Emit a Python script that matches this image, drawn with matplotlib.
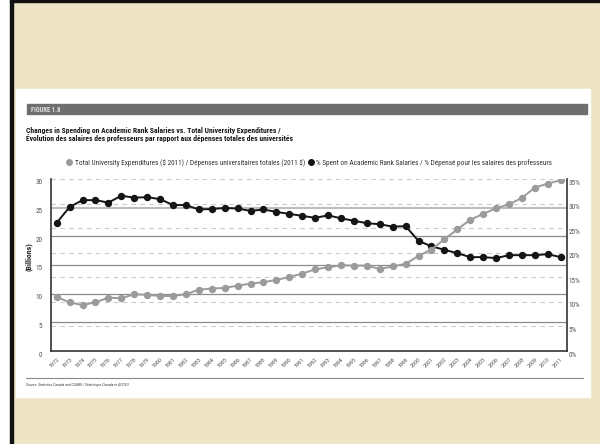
import matplotlib
matplotlib.use("Agg")
import matplotlib.pyplot as plt
from matplotlib.patches import Rectangle
from matplotlib.lines import Line2D
from matplotlib.transforms import blended_transform_factory, ScaledTranslation
from matplotlib import font_manager

years = list(range(1972, 2012))
total_expenditures = [9.4, 8.5, 8.0, 8.5, 9.3, 9.2, 9.9, 9.8, 9.6, 9.6,
                      9.9, 10.7, 10.9, 11.0, 11.4, 11.75, 12.0, 12.4, 12.9, 13.5,
                      14.25, 14.6, 14.95, 14.9, 14.9, 14.3, 14.75, 15.2, 16.6, 17.7,
                      19.5, 21.2, 22.9, 23.9, 24.9, 25.6, 26.7, 28.5, 29.2, 29.8]
pct_salaries = [26.1, 29.3, 30.7, 30.7, 30.2, 31.6, 31.2, 31.3, 30.9, 29.7,
                29.7, 28.8, 28.9, 29.1, 29.0, 28.5, 28.8, 28.3, 27.9, 27.5,
                27.1, 27.6, 27.0, 26.5, 26.0, 25.8, 25.3, 25.4, 22.4, 21.3,
                20.6, 19.9, 19.1, 19.1, 18.9, 19.5, 19.5, 19.5, 19.7, 19.1]
left_ticks = [0, 5, 10, 15, 20, 25, 30]
right_ticks = [0, 5, 10, 15, 20, 25, 30, 35]

label_total = "Total University Expenditures ($ 2011) / Dépenses universitaires totales (2011 $)"
label_pct = "% Spent on Academic Rank Salaries / % Dépensé pour les salaires des professeurs"
title1 = "Changes in Spending on Academic Rank Salaries vs. Total University Expenditures /"
title2 = "Évolution des salaires des professeurs par rapport aux dépenses totales des universités"
source = "Source: Statistics Canada and CAUBO / Statistique Canada et ACPAU"

plt.rcParams['text.parse_math'] = False
avail = {f.name for f in font_manager.fontManager.ttflist}
fam = [f for f in ["Liberation Sans Narrow", "DejaVu Sans Condensed", "Roboto Condensed"] if f in avail]
fam = fam + ["DejaVu Sans"]
plt.rcParams['font.family'] = fam

W, H = 600, 444
def fx(x): return x / W
def fy(y): return 1 - y / H

fig = plt.figure(figsize=(6, 4.44), dpi=100)
fig.patch.set_facecolor('white')

# slide background
fig.add_artist(Rectangle((fx(12), 0), 1, 1, transform=fig.transFigure,
                         color='#EEE5C6', zorder=-10))
fig.add_artist(Rectangle((fx(10), 0), fx(2.5), 1, transform=fig.transFigure,
                         color='#111111', zorder=-9))
fig.add_artist(Rectangle((fx(10), fy(2.5)), 1, 2.5 / H, transform=fig.transFigure,
                         color='#111111', zorder=-9))
# white card
fig.add_artist(Rectangle((fx(16), fy(397)), fx(574), 308 / H, transform=fig.transFigure,
                         color='white', zorder=-8))
# banner
fig.add_artist(Rectangle((fx(26.5), fy(114.5)), fx(560), 10 / H, transform=fig.transFigure,
                         color='#6e6e6e', zorder=-7))
fig.text(fx(31), fy(109.5), "FIGURE 1.8", color='#dedede', fontsize=4.8,
         weight='bold', va='center', ha='left')
fig.text(fx(26.5), fy(130.5), title1, fontsize=5.5, weight='bold', va='center',
         ha='left', color='#1a1a1a')
fig.text(fx(26.5), fy(138.5), title2, fontsize=5.5, weight='bold', va='center',
         ha='left', color='#1a1a1a')

# axes
ax = fig.add_axes([fx(50.7), fy(351), fx(516), 172 / H])
ax2 = ax.twinx()
ax.set_zorder(2)
ax2.set_zorder(1)
ax.patch.set_visible(False)
ax2.patch.set_visible(False)

grey = '#9b9b9b'
black = '#151515'

# gridlines (in the lower axes so that lines and dots sit above them)
for v in right_ticks[1:]:
    ax2.axhline(v, color='#c9c9c9', lw=0.8, ls=(0, (4, 4)), zorder=0)
blend = blended_transform_factory(ax2.transAxes, ax.transData)
for v in left_ticks[1:-1]:
    if v == 25:
        ax2.plot([0, 1], [v, v], transform=blend, color='#bdbdbd', lw=1.5, zorder=0.5)
    else:
        ax2.plot([0, 1], [v, v], transform=blend, color='#8c8c8c', lw=0.9, zorder=0.5)

l2, = ax2.plot(years, pct_salaries, color=black, lw=1.4, marker='o', ms=4.3,
               zorder=3, label=label_pct)
l1, = ax.plot(years, total_expenditures, color=grey, lw=1.4, marker='o', ms=4.3,
              zorder=3, label=label_total)

ax.set_xlim(years[0] - 0.465, years[-1] + 0.465)
ax.set_ylim(0, 30)
ax2.set_ylim(0, 35)
ax.set_yticks(left_ticks)
ax.set_yticklabels([str(v) for v in left_ticks])
ax2.set_yticks(right_ticks)
ax2.set_yticklabels([f"{v}%" for v in right_ticks])
ax.set_xticks(years)
ax.set_xticklabels([str(y) for y in years], rotation=45, ha='right',
                   rotation_mode='anchor', fontsize=4.3, color='#555555')
ax.tick_params(axis='x', length=0, pad=4)
ax.tick_params(axis='y', length=0, pad=6, labelsize=5.2, labelcolor='#555555')
ax2.tick_params(axis='y', length=0, pad=1.5, labelsize=5.2, labelcolor='#555555')
off = ScaledTranslation(0, -3 / 100, fig.dpi_scale_trans)
for lab in ax.get_yticklabels() + ax2.get_yticklabels():
    lab.set_transform(lab.get_transform() + off)

for a in (ax, ax2):
    a.spines['top'].set_visible(False)
    for s in ('left', 'right', 'bottom'):
        a.spines[s].set_color('#333333')
        a.spines[s].set_linewidth(1.2)
ax.spines['right'].set_visible(False)
ax2.spines['left'].set_visible(False)
ax2.spines['bottom'].set_visible(False)

ax.set_ylabel("(Billions)", fontsize=5.6, weight='bold', color='#222222')
ax.yaxis.set_label_coords(fx(32.7 - 50.7) / fx(516), 0.55)

# legend
h1 = Line2D([], [], color=grey, marker='o', ls='none', ms=4.0)
h2 = Line2D([], [], color=black, marker='o', ls='none', ms=4.0)
fig.legend([h1, h2], [label_total, label_pct], loc='center',
           bbox_to_anchor=(fx(309), fy(163)), ncol=2, frameon=False,
           fontsize=5.2, handletextpad=0.25, columnspacing=0.35,
           handlelength=1.0, labelcolor='#333333')

# footer
fig.add_artist(Line2D([fx(26), fx(583)], [fy(377.7), fy(377.7)],
                      transform=fig.transFigure, color='#8a8a8a', lw=0.8))
fig.text(fx(26.5), fy(384.5), source, fontsize=2.8, style='italic',
         va='center', ha='left', color='#444444')

fig.savefig("out.png", dpi=100, facecolor=fig.get_facecolor())
